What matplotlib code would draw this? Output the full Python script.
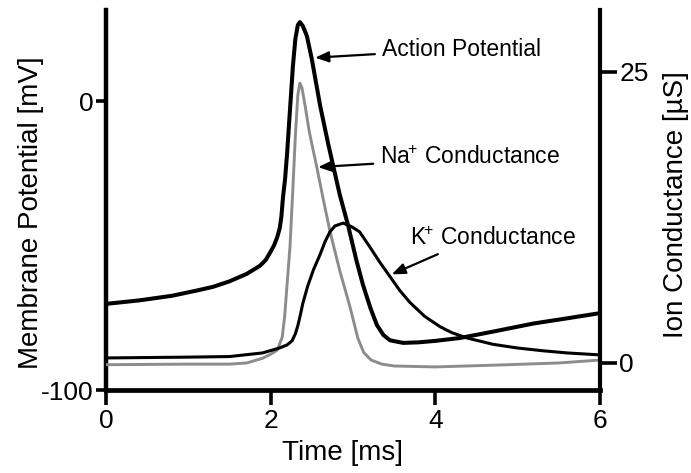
import matplotlib
matplotlib.use('Agg')
import matplotlib.pyplot as plt

plt.rcParams['font.family'] = ['Liberation Sans', 'DejaVu Sans']
plt.rcParams['mathtext.default'] = 'regular'
plt.rcParams['axes.unicode_minus'] = False

# Action potential (membrane potential, mV) vs time (ms)
ap_t = [0.0, 0.4, 0.8, 1.1, 1.3, 1.5, 1.71, 1.87, 1.94, 1.99, 2.04, 2.08, 2.11,
        2.13, 2.15, 2.175, 2.20, 2.23, 2.27, 2.30, 2.33, 2.355, 2.39, 2.44, 2.50,
        2.60, 2.70, 2.84, 2.94, 3.04, 3.12, 3.21, 3.29, 3.37, 3.45, 3.61, 3.80,
        4.0, 4.3, 4.7, 5.19, 5.6, 6.0]
ap_mv = [-70.2, -69.0, -67.4, -65.6, -64.3, -62.4, -59.8, -57.0, -55.0, -52.6,
         -50.0, -47.1, -44.0, -40.1, -33.2, -27.0, -18.0, -5.0, 12.0, 21.5, 26.3,
         27.3, 26.0, 22.5, 14.5, -1.5, -15.0, -32.5, -43.0, -55.0, -63.5, -71.5,
         -77.5, -81.0, -82.8, -83.7, -83.5, -83.0, -82.0, -79.8, -77.0, -75.2,
         -73.4]

# Na+ conductance (uS)
na_t = [0.0, 1.0, 1.5, 1.71, 1.9, 2.0, 2.08, 2.14, 2.17, 2.20, 2.235, 2.27,
        2.30, 2.33, 2.355, 2.38, 2.42, 2.47, 2.56, 2.64, 2.72, 2.84, 2.96, 3.06,
        3.13, 3.22, 3.35, 3.5, 4.0, 4.8, 5.5, 6.0]
na_us = [-0.15, -0.1, -0.1, 0.0, 0.4, 0.75, 1.1, 2.2, 4.0, 6.8, 10.0, 15.0,
         19.5, 23.0, 24.0, 23.6, 22.0, 19.8, 16.8, 14.0, 11.3, 7.9, 4.9, 2.1,
         0.9, 0.25, -0.1, -0.26, -0.34, -0.17, 0.0, 0.25]

# K+ conductance (uS)
k_t = [0.0, 1.0, 1.5, 1.9, 2.11, 2.20, 2.26, 2.30, 2.33, 2.36, 2.39, 2.45,
       2.52, 2.60, 2.66, 2.72, 2.78, 2.88, 2.98, 3.08, 3.20, 3.32, 3.45, 3.57,
       3.69, 3.87, 4.06, 4.2, 4.38, 4.7, 4.99, 5.3, 5.6, 6.0]
k_us = [0.43, 0.5, 0.55, 0.86, 1.29, 1.55, 1.9, 2.5, 3.2, 4.1, 5.1, 6.6,
        8.0, 9.3, 10.4, 11.25, 11.75, 12.0, 11.7, 11.25, 10.0, 8.7, 7.4, 6.2,
        5.2, 4.0, 3.1, 2.6, 2.15, 1.6, 1.29, 1.05, 0.86, 0.69]

x_ticks = [0, 2, 4, 6]
mv_ticks = [-100, 0]
us_ticks = [0, 25]

fig = plt.figure(figsize=(6.91, 4.73), dpi=100)
ax = fig.add_axes([106 / 691, 83 / 473, 494 / 691, 380 / 473])
ax2 = ax.twinx()

ax.plot(ap_t, ap_mv, color='black', lw=2.9)
ax2.plot(na_t, na_us, color='0.55', lw=2.1)
ax2.plot(k_t, k_us, color='black', lw=2.2)

ax.set_xlim(0, 6)
ax.set_ylim(-100, 31.5)
ax2.set_ylim(-2.32, 30.28)

ax.set_xticks(x_ticks)
ax.set_yticks(mv_ticks)
ax.set_yticklabels(['-100', '0'])
ax2.set_yticks(us_ticks)

for s in ['top', 'right']:
    ax.spines[s].set_visible(False)
for s in ['top', 'left', 'bottom']:
    ax2.spines[s].set_visible(False)
ax.spines['left'].set_linewidth(3.2)
ax.spines['bottom'].set_linewidth(3.4)
ax2.spines['right'].set_linewidth(3.0)

ax.tick_params(axis='x', direction='out', length=10.5, width=2.6, labelsize=19, pad=3)
ax.tick_params(axis='y', direction='out', length=7, width=2.6, labelsize=19, pad=2)
ax2.tick_params(axis='y', direction='out', length=12, width=2.6, labelsize=19, pad=2)

ax.set_xlabel('Time [ms]', fontsize=20)
ax.xaxis.set_label_coords(0.478, -0.132)
ax.set_ylabel('Membrane Potential [mV]', fontsize=20)
ax.yaxis.set_label_coords(-0.125, 0.466)
ax2.set_ylabel('Ion Conductance [µS]', fontsize=20)
ax2.yaxis.set_label_coords(1.128, 0.488)

arrow = dict(arrowstyle='-|>,head_length=0.5,head_width=0.2', mutation_scale=16,
             lw=1.6, color='black', shrinkA=3, shrinkB=0)
ax.annotate('Action Potential', xy=(2.54, 15), xytext=(3.35, 18),
            ha='left', va='center', fontsize=16.5, arrowprops=arrow)
ax2.annotate(r'Na$^{\!\!+}\,$Conductance', xy=(2.575, 16.8), xytext=(3.33, 17.6),
             ha='left', va='center', fontsize=16.5, arrowprops=arrow)
ax2.annotate(r'K$^{\!\!+}\,$Conductance', xy=(3.47, 7.6), xytext=(3.69, 10.7),
             ha='left', va='center', fontsize=16.5,
             arrowprops=dict(arrow, relpos=(0.23, 0)))

fig.savefig('out.png', dpi=100)
